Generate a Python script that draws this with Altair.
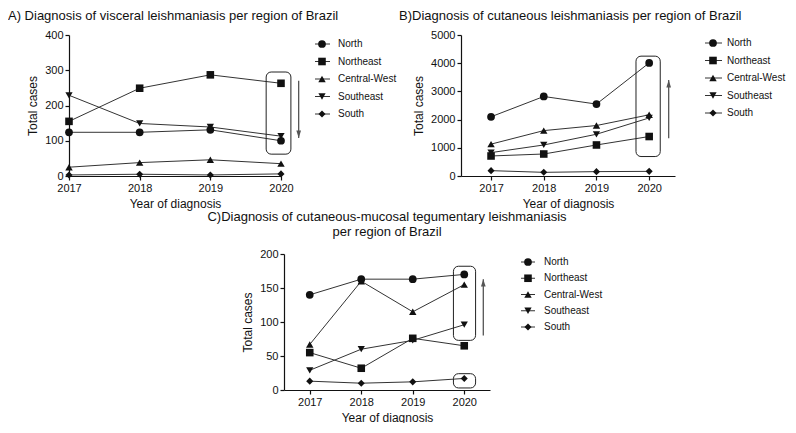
import altair as alt
import pandas as pd

FONT = "Liberation Sans"

years = [2017, 2018, 2019, 2020]
regions = ["North", "Northeast", "Central-West", "Southeast", "South"]
shapes = ["circle", "square", "triangle-up", "triangle-down", "diamond"]
marker_sizes = [60, 50, 55, 55, 35]

# A) visceral leishmaniasis
visceral_north = [124, 124, 131, 100]
visceral_northeast = [155, 249, 287, 263]
visceral_central_west = [25, 38, 46, 35]
visceral_southeast = [229, 149, 139, 113]
visceral_south = [3, 5, 3, 6]

# B) cutaneous leishmaniasis
cutaneous_north = [2100, 2820, 2550, 4010]
cutaneous_northeast = [710, 780, 1100, 1400]
cutaneous_central_west = [1130, 1610, 1790, 2170]
cutaneous_southeast = [830, 1100, 1480, 2060]
cutaneous_south = [190, 130, 155, 165]

# C) cutaneous-mucosal tegumentary leishmaniasis
mucosal_north = [140, 163, 163, 170]
mucosal_northeast = [55, 32, 76, 65]
mucosal_central_west = [67, 160, 115, 155]
mucosal_southeast = [29, 60, 73, 96]
mucosal_south = [13, 10, 12, 17]

# annotation boxes (x0, x1, y0, y1) and arrows (x, y_start, y_tip)
box_a = [(2019.79, 2020.14, 62, 295)]
arrow_a = [(2020.25, 270, 108)]
box_b = [(2019.75, 2020.21, 690, 4250)]
arrow_b = [(2020.37, 1340, 3400)]
box_c = [(2019.79, 2020.22, 73, 182), (2019.79, 2020.22, 3, 24)]
arrow_c = [(2020.37, 80, 163)]

titles = {
    "A": "A) Diagnosis of visceral leishmaniasis per region of Brazil",
    "B": "B)Diagnosis of cutaneous leishmaniasis per region of Brazil",
    "C": ["C)Diagnosis of cutaneous-mucosal tegumentary leishmaniasis",
          "per region of Brazil"],
}

UP = "M0,0L-0.7,2.2L0.7,2.2Z"
DOWN = "M0,0L-0.7,-2.2L0.7,-2.2Z"


def long_df(series):
    rows = []
    for reg, vals in zip(regions, series):
        for yr, v in zip(years, vals):
            rows.append({"region": reg, "year": yr, "cases": v})
    return pd.DataFrame(rows)


def panel(series, xdom, ydom, yticks, width, height, title, tparams,
          boxes, arrows, leg):
    df = long_df(series)
    xscale = alt.Scale(domain=xdom, nice=False, zero=False)
    yscale = alt.Scale(domain=ydom, nice=False)
    xaxis = alt.Axis(values=years, format="d", title="Year of diagnosis")
    yaxis = alt.Axis(values=yticks, format="d", title="Total cases")

    def X(f):
        return alt.X(f, type="quantitative", scale=xscale, axis=xaxis)

    def Y(f):
        return alt.Y(f, type="quantitative", scale=yscale, axis=yaxis)

    shape = alt.Shape("region:N", scale=alt.Scale(domain=regions, range=shapes), legend=None)
    size = alt.Size("region:N", scale=alt.Scale(domain=regions, range=marker_sizes), legend=None)

    lines = alt.Chart(df).mark_line(color="#333", strokeWidth=1).encode(
        x=X("year"), y=Y("cases"), detail="region:N")
    pts = alt.Chart(df).mark_point(filled=True, color="#111", opacity=1).encode(
        x=X("year"), y=Y("cases"), shape=shape, size=size)

    bdf = pd.DataFrame(boxes, columns=["x0", "x1", "y0", "y1"])
    box = alt.Chart(bdf).mark_rect(fillOpacity=0, stroke="#222", strokeWidth=1,
                                   cornerRadius=5).encode(
        x=X("x0"), x2="x1", y=Y("y0"), y2="y1")

    adf = pd.DataFrame(arrows, columns=["ax", "ay0", "ay1"])
    up = arrows[0][2] > arrows[0][1]
    arule = alt.Chart(adf).mark_rule(color="#555", strokeWidth=1.3).encode(
        x=X("ax"), y=Y("ay0"), y2="ay1")
    ahead = alt.Chart(adf).mark_point(shape=UP if up else DOWN, filled=True,
                                      color="#555", opacity=1, size=45).encode(
        x=X("ax"), y=Y("ay1"))

    ldf = pd.DataFrame({"region": regions, "idx": list(range(len(regions)))})
    ly = alt.Y("idx:Q", scale=alt.Scale(domain=[0, len(regions) - 1],
                                        range=[leg["top"], leg["bottom"]]), axis=None)
    lrule = alt.Chart(ldf).mark_rule(color="#333", strokeWidth=1).encode(
        x=alt.value(leg["x0"]), x2=alt.value(leg["x1"]), y=ly)
    lpt = alt.Chart(ldf).mark_point(filled=True, color="#111", opacity=1).encode(
        x=alt.value(leg["xm"]), y=ly, shape=shape, size=size)
    ltxt = alt.Chart(ldf).mark_text(align="left", baseline="middle", fontSize=10,
                                    font=FONT, color="#111").encode(
        x=alt.value(leg["xt"]), y=ly, text="region:N")

    main = alt.layer(lines, pts, box, arule, ahead)
    legend = alt.layer(lrule, lpt, ltxt)
    return alt.layer(main, legend).resolve_scale(y="independent").properties(
        width=width, height=height,
        title=alt.TitleParams(text=title, font=FONT, fontSize=13, fontWeight="normal",
                              color="#111", frame="group", **tparams))


chart_a = panel(
    [visceral_north, visceral_northeast, visceral_central_west, visceral_southeast, visceral_south],
    [2017, 2020], [0, 400], [0, 100, 200, 300, 400], 212, 141, titles["A"],
    dict(anchor="start", dx=-61, offset=6),
    box_a, arrow_a,
    dict(top=9, bottom=79, x0=246, x1=261, xm=253, xt=269))

chart_b = panel(
    [cutaneous_north, cutaneous_northeast, cutaneous_central_west, cutaneous_southeast, cutaneous_south],
    [2016.43, 2020.49], [0, 5000], [0, 1000, 2000, 3000, 4000, 5000], 214, 141, titles["B"],
    dict(anchor="start", dx=-62, offset=6),
    box_b, arrow_b,
    dict(top=8, bottom=78, x0=244, x1=261, xm=252, xt=266))

chart_c = panel(
    [mucosal_north, mucosal_northeast, mucosal_central_west, mucosal_southeast, mucosal_south],
    [2016.5, 2020.5], [0, 200], [0, 50, 100, 150, 200], 206, 136, titles["C"],
    dict(anchor="middle", offset=9, lineHeight=15),
    box_c, arrow_c,
    dict(top=8, bottom=73, x0=237, x1=251, xm=244, xt=260))

spacer = alt.Chart(pd.DataFrame({"a": [0]})).mark_point(opacity=0).encode(
    x=alt.value(0), y=alt.value(0)).properties(width=138, height=10)

top = alt.hconcat(chart_a, chart_b, spacing=2)
bottom = alt.hconcat(spacer, chart_c, spacing=0)

chart = alt.vconcat(top, bottom, spacing=2).properties(
    padding={"left": 0, "top": 2, "right": 0, "bottom": 0}
).configure_view(
    stroke=None
).configure_axis(
    grid=False, domainColor="#111", tickColor="#111", domainWidth=1.2, tickWidth=1.2,
    tickSize=4, labelColor="#111", titleColor="#111", labelFont=FONT, titleFont=FONT,
    labelFontSize=11, titleFontSize=12, titleFontWeight="normal", labelPadding=2,
    titlePadding=5, labelFlush=False, labelOverlap=False
)

chart.save("out.html", embed_options={"renderer": "svg", "actions": False})
